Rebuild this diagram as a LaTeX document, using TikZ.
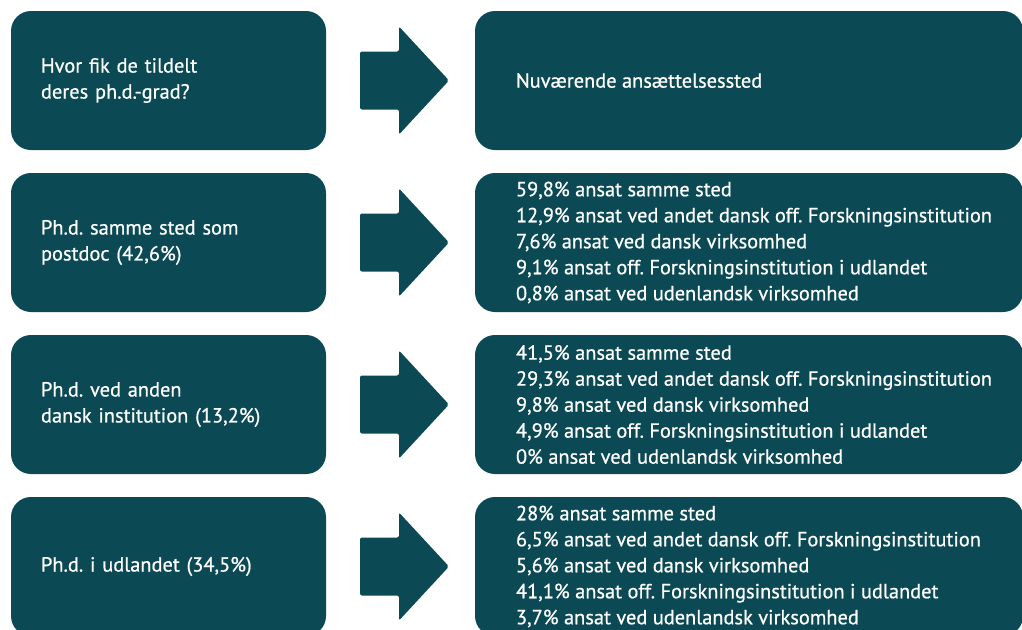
\documentclass[tikz,border=0pt]{standalone}
\usepackage{fontspec}
\newfontfamily\dinfont{PT Sans}[FakeBold=0.7]
\definecolor{petrol}{HTML}{0B4A55}
\frenchspacing
\begin{document}
\begin{tikzpicture}[x=0.75pt,y=-0.75pt,
    tekst/.style={text=white, font=\dinfont\fontsize{15.3}{19.5}\selectfont},
    venstre/.style={tekst, fill=petrol, rounded corners=15pt, minimum height=104.25pt,
      text width=191.25pt, inner xsep=22.5pt, align=left},
    hoejre/.style={fill=petrol, rounded corners=15pt, minimum height=104.25pt,
      minimum width=411pt},
    liste/.style={tekst, anchor=west, align=left, inner sep=0pt},
    pil/.style={fill=petrol, rounded corners=1.5pt}]
    \clip (0,0) rectangle (1022,629);

    % Overskrift
    \node[venstre] (v1) at (168.5,80.5) {Hvor fik de tildelt\\deres ph.d.-grad?};
    \fill[pil] (360,51.5) -- (399,51.5) -- (399,26.5) -- (449,80.5) -- (399,134.5) -- (399,109.5) -- (360,109.5) -- cycle;
    \node[hoejre] (h1) at (749,80.5) {};
    \node[liste] (t1) at ([xshift=30.75pt]h1.west) {Nuværende ansættelsessted};

    % Samme sted
    \node[venstre] (v2) at (168.5,242.5) {Ph.d. samme sted som\\postdoc (42,6\%)};
    \fill[pil] (360,213.5) -- (399,213.5) -- (399,188.5) -- (449,242.5) -- (399,296.5) -- (399,271.5) -- (360,271.5) -- cycle;
    \node[hoejre] (h2) at (749,242.5) {};
    \node[liste] (t2) at ([xshift=30.75pt]h2.west) {59,8\% ansat samme sted\\
      12,9\% ansat ved andet dansk off. Forskningsinstitution\\
      7,6\% ansat ved dansk virksomhed\\
      9,1\% ansat off. Forskningsinstitution i udlandet\\
      0,8\% ansat ved udenlandsk virksomhed};

    % Anden dansk institution
    \node[venstre] (v3) at (168.5,404.5) {Ph.d. ved anden\\dansk institution (13,2\%)};
    \fill[pil] (360,375.5) -- (399,375.5) -- (399,350.5) -- (449,404.5) -- (399,458.5) -- (399,433.5) -- (360,433.5) -- cycle;
    \node[hoejre] (h3) at (749,404.5) {};
    \node[liste] (t3) at ([xshift=30.75pt]h3.west) {41,5\% ansat samme sted\\
      29,3\% ansat ved andet dansk off. Forskningsinstitution\\
      9,8\% ansat ved dansk virksomhed\\
      4,9\% ansat off. Forskningsinstitution i udlandet\\
      0\% ansat ved udenlandsk virksomhed};

    % Udlandet
    \node[venstre] (v4) at (168.5,566.5) {Ph.d. i udlandet (34,5\%)};
    \fill[pil] (360,537.5) -- (399,537.5) -- (399,512.5) -- (449,566.5) -- (399,620.5) -- (399,595.5) -- (360,595.5) -- cycle;
    \node[hoejre] (h4) at (749,566.5) {};
    \node[liste] (t4) at ([xshift=30.75pt]h4.west) {28\% ansat samme sted\\
      6,5\% ansat ved andet dansk off. Forskningsinstitution\\
      5,6\% ansat ved dansk virksomhed\\
      41,1\% ansat off. Forskningsinstitution i udlandet\\
      3,7\% ansat ved udenlandsk virksomhed};
\end{tikzpicture}
\end{document}
